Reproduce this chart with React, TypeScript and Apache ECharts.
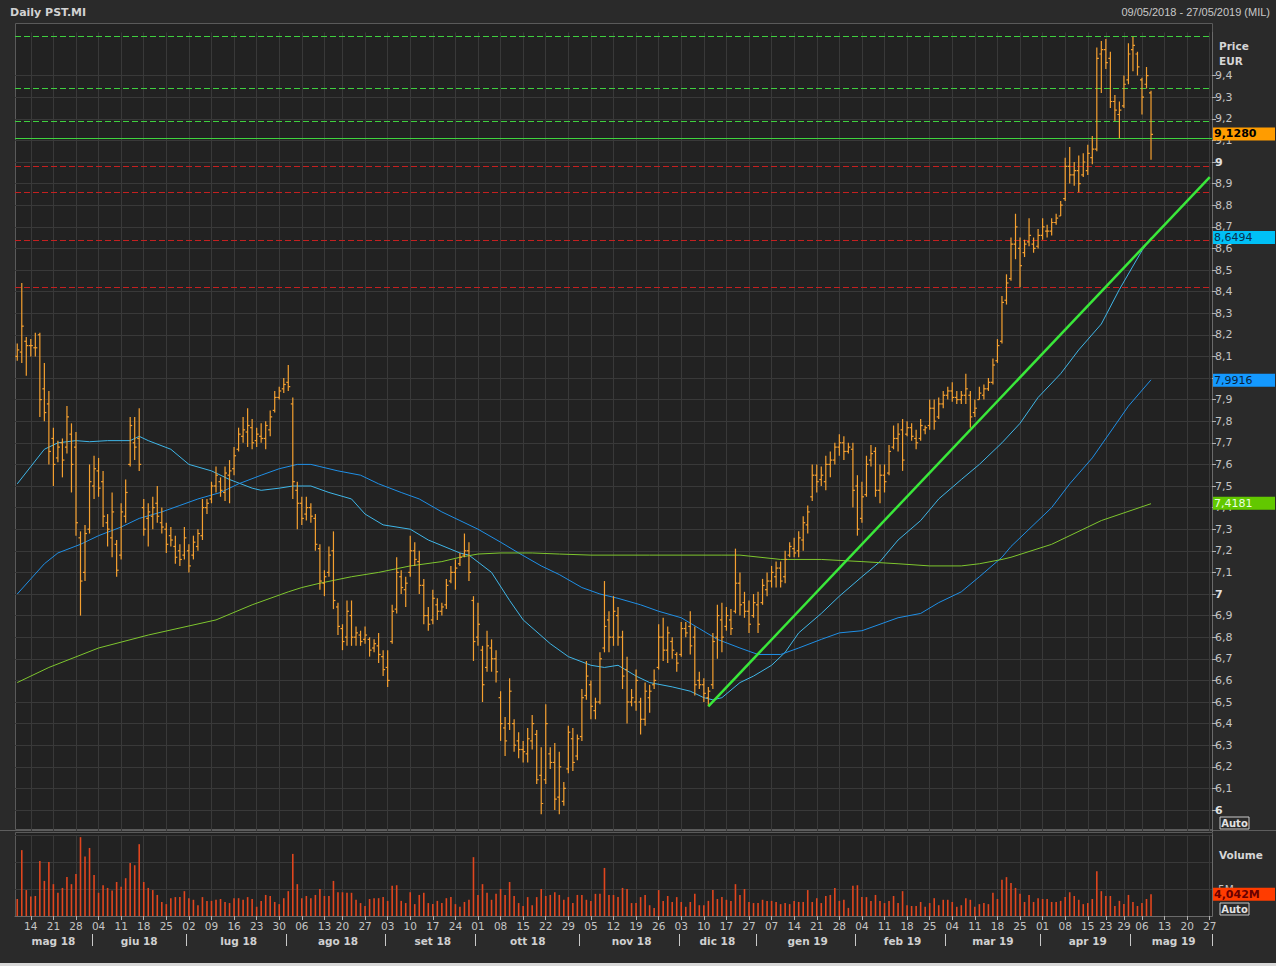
import React, { useEffect, useRef } from 'react';
import * as echarts from 'echarts';

// ---------- calendar (categories) ----------
const START_DATE = '2018-05-09';
const END_DATE = '2019-05-27';
const HOLIDAYS = ['2018-08-15', '2018-12-24', '2018-12-25', '2018-12-26', '2018-12-31', '2019-01-01', '2019-04-19', '2019-04-22', '2019-05-01'];
const MONTHS = ['gen', 'feb', 'mar', 'apr', 'mag', 'giu', 'lug', 'ago', 'set', 'ott', 'nov', 'dic'];

function buildTradingDays(start: string, end: string, holidays: string[]): string[] {
  const out: string[] = [];
  const [ys, ms, ds] = start.split('-').map(Number);
  const [ye, me, de] = end.split('-').map(Number);
  let t = Date.UTC(ys, ms - 1, ds);
  const tEnd = Date.UTC(ye, me - 1, de);
  while (t <= tEnd) {
    const d = new Date(t);
    const dow = d.getUTCDay();
    const s = d.toISOString().slice(0, 10);
    if (dow !== 0 && dow !== 6 && holidays.indexOf(s) < 0) out.push(s);
    t += 86400000;
  }
  return out;
}
const DATES = buildTradingDays(START_DATE, END_DATE, HOLIDAYS);

// ---------- daily OHLC (open, high, low, close), EUR ----------
const BARS: number[][] = [
  [8.10, 8.16, 8.08, 8.13], [8.12, 8.44, 8.07, 8.24], [8.17, 8.19, 8.01, 8.15], [8.15, 8.18, 8.10, 8.15], [8.14, 8.21, 8.10, 8.14],
  [8.20, 8.21, 7.82, 7.90], [7.95, 8.07, 7.80, 7.84], [7.88, 7.94, 7.60, 7.66], [7.72, 7.77, 7.50, 7.60], [7.63, 7.71, 7.61, 7.68],
  [7.70, 7.72, 7.54, 7.62], [7.68, 7.87, 7.65, 7.82], [7.74, 7.79, 7.47, 7.60], [7.68, 7.75, 7.27, 7.33], [7.26, 7.29, 6.90, 7.06],
  [7.10, 7.32, 7.06, 7.28], [7.30, 7.60, 7.28, 7.52], [7.50, 7.64, 7.44, 7.58], [7.57, 7.63, 7.45, 7.49], [7.52, 7.57, 7.31, 7.36],
  [7.33, 7.37, 7.22, 7.30], [7.26, 7.47, 7.17, 7.38], [7.23, 7.25, 7.08, 7.11], [7.18, 7.42, 7.16, 7.38], [7.36, 7.53, 7.33, 7.47],
  [7.60, 7.82, 7.59, 7.78], [7.70, 7.82, 7.62, 7.68], [7.72, 7.86, 7.57, 7.60], [7.40, 7.44, 7.27, 7.30], [7.35, 7.42, 7.22, 7.38],
  [7.36, 7.45, 7.30, 7.40], [7.42, 7.50, 7.33, 7.36], [7.33, 7.40, 7.28, 7.31], [7.30, 7.33, 7.19, 7.23], [7.27, 7.31, 7.22, 7.25],
  [7.22, 7.27, 7.14, 7.17], [7.20, 7.23, 7.13, 7.16], [7.18, 7.31, 7.16, 7.26], [7.20, 7.23, 7.10, 7.13], [7.18, 7.27, 7.16, 7.24],
  [7.22, 7.30, 7.20, 7.28], [7.27, 7.44, 7.25, 7.40], [7.40, 7.44, 7.37, 7.42], [7.44, 7.52, 7.42, 7.50], [7.50, 7.59, 7.47, 7.55],
  [7.52, 7.54, 7.45, 7.48], [7.47, 7.59, 7.43, 7.56], [7.55, 7.62, 7.42, 7.57], [7.58, 7.68, 7.55, 7.64], [7.67, 7.77, 7.66, 7.74],
  [7.73, 7.82, 7.70, 7.76], [7.75, 7.86, 7.68, 7.78], [7.77, 7.81, 7.67, 7.70], [7.71, 7.77, 7.68, 7.74], [7.73, 7.79, 7.70, 7.72],
  [7.72, 7.80, 7.67, 7.78], [7.76, 7.85, 7.73, 7.82], [7.85, 7.94, 7.84, 7.91], [7.91, 7.96, 7.90, 7.94], [7.95, 8.00, 7.93, 7.97],
  [7.98, 8.06, 7.94, 7.96], [7.88, 7.91, 7.44, 7.52], [7.48, 7.52, 7.30, 7.42], [7.42, 7.45, 7.32, 7.35], [7.37, 7.45, 7.34, 7.40],
  [7.40, 7.42, 7.33, 7.36], [7.35, 7.37, 7.20, 7.23], [7.21, 7.23, 7.02, 7.06], [7.05, 7.11, 6.99, 7.08], [7.10, 7.22, 7.08, 7.18],
  [7.20, 7.29, 6.93, 6.97], [6.94, 6.96, 6.81, 6.85], [6.84, 6.86, 6.74, 6.78], [6.80, 6.97, 6.76, 6.92], [6.90, 6.97, 6.76, 6.80],
  [6.80, 6.85, 6.76, 6.82], [6.81, 6.83, 6.76, 6.78], [6.79, 6.85, 6.77, 6.81], [6.79, 6.80, 6.71, 6.74], [6.75, 6.79, 6.73, 6.77],
  [6.76, 6.82, 6.68, 6.72], [6.71, 6.74, 6.62, 6.65], [6.66, 6.74, 6.57, 6.60], [6.78, 6.95, 6.77, 6.92], [6.93, 7.17, 6.91, 7.10],
  [7.08, 7.11, 7.00, 7.03], [7.02, 7.08, 6.94, 7.05], [7.10, 7.27, 7.08, 7.20], [7.20, 7.24, 7.13, 7.16], [7.15, 7.20, 7.00, 7.04],
  [7.04, 7.07, 6.86, 6.90], [6.90, 6.94, 6.83, 6.86], [6.88, 7.02, 6.86, 6.98], [6.95, 6.98, 6.88, 6.92], [6.92, 6.96, 6.90, 6.94],
  [6.95, 7.07, 6.93, 7.04], [7.06, 7.13, 7.05, 7.10], [7.10, 7.16, 7.02, 7.12], [7.14, 7.19, 7.13, 7.17], [7.18, 7.28, 7.17, 7.20],
  [7.20, 7.24, 7.06, 7.10], [6.97, 6.99, 6.69, 6.78], [6.80, 6.96, 6.76, 6.86], [6.74, 6.76, 6.50, 6.58], [6.66, 6.83, 6.64, 6.76],
  [6.75, 6.79, 6.64, 6.70], [6.70, 6.74, 6.59, 6.64], [6.52, 6.55, 6.32, 6.40], [6.38, 6.43, 6.25, 6.32], [6.40, 6.61, 6.37, 6.55],
  [6.40, 6.42, 6.27, 6.30], [6.32, 6.36, 6.24, 6.28], [6.28, 6.32, 6.22, 6.27], [6.26, 6.38, 6.22, 6.33], [6.32, 6.44, 6.28, 6.40],
  [6.35, 6.37, 6.12, 6.14], [6.16, 6.29, 5.98, 6.03], [6.14, 6.49, 6.12, 6.40], [6.26, 6.29, 6.19, 6.22], [6.22, 6.31, 6.00, 6.05],
  [6.06, 6.27, 5.98, 6.20], [6.04, 6.13, 6.02, 6.10], [6.19, 6.39, 6.17, 6.36], [6.33, 6.38, 6.18, 6.22], [6.25, 6.35, 6.23, 6.33],
  [6.34, 6.56, 6.32, 6.52], [6.53, 6.69, 6.51, 6.62], [6.58, 6.60, 6.42, 6.48], [6.46, 6.52, 6.42, 6.50], [6.50, 6.73, 6.49, 6.70],
  [6.75, 7.06, 6.73, 6.85], [6.88, 6.92, 6.73, 6.80], [6.80, 6.99, 6.76, 6.92], [6.90, 6.94, 6.76, 6.80], [6.80, 6.83, 6.56, 6.62],
  [6.65, 6.71, 6.40, 6.50], [6.50, 6.56, 6.48, 6.52], [6.50, 6.65, 6.46, 6.60], [6.50, 6.52, 6.35, 6.42], [6.42, 6.59, 6.39, 6.55],
  [6.52, 6.58, 6.45, 6.55], [6.58, 6.65, 6.56, 6.60], [6.66, 6.86, 6.65, 6.80], [6.80, 6.89, 6.69, 6.74], [6.74, 6.85, 6.68, 6.82],
  [6.78, 6.80, 6.70, 6.74], [6.72, 6.73, 6.64, 6.68], [6.72, 6.87, 6.71, 6.84], [6.84, 6.87, 6.80, 6.82], [6.85, 6.92, 6.72, 6.76],
  [6.80, 6.85, 6.53, 6.58], [6.60, 6.64, 6.56, 6.58], [6.58, 6.61, 6.50, 6.54], [6.52, 6.57, 6.48, 6.55], [6.58, 6.82, 6.56, 6.78],
  [6.80, 6.95, 6.70, 6.90], [6.88, 6.96, 6.73, 6.80], [6.85, 6.94, 6.83, 6.90], [6.88, 6.93, 6.81, 6.84], [6.92, 7.21, 6.91, 7.05],
  [7.05, 7.10, 6.90, 6.95], [6.96, 7.01, 6.89, 6.92], [6.92, 6.97, 6.82, 6.86], [6.90, 7.00, 6.89, 6.96], [6.95, 7.01, 6.82, 6.86],
  [6.96, 7.07, 6.95, 7.04], [7.02, 7.10, 6.99, 7.06], [7.06, 7.13, 7.03, 7.10], [7.08, 7.15, 7.03, 7.12], [7.12, 7.15, 7.03, 7.06],
  [7.08, 7.20, 7.05, 7.16], [7.18, 7.24, 7.17, 7.22], [7.21, 7.26, 7.17, 7.19], [7.20, 7.29, 7.17, 7.26], [7.25, 7.36, 7.20, 7.33],
  [7.32, 7.41, 7.28, 7.38], [7.45, 7.60, 7.43, 7.55], [7.55, 7.60, 7.47, 7.52], [7.53, 7.59, 7.50, 7.55], [7.52, 7.64, 7.48, 7.60],
  [7.60, 7.66, 7.54, 7.62], [7.62, 7.70, 7.60, 7.68], [7.68, 7.74, 7.64, 7.70], [7.70, 7.73, 7.62, 7.66], [7.66, 7.70, 7.65, 7.68],
  [7.67, 7.70, 7.40, 7.48], [7.50, 7.55, 7.27, 7.30], [7.35, 7.52, 7.33, 7.45], [7.46, 7.64, 7.45, 7.60], [7.62, 7.69, 7.59, 7.65],
  [7.66, 7.68, 7.45, 7.48], [7.48, 7.60, 7.42, 7.55], [7.55, 7.60, 7.47, 7.52], [7.56, 7.69, 7.55, 7.66], [7.68, 7.78, 7.67, 7.72],
  [7.72, 7.79, 7.66, 7.74], [7.76, 7.81, 7.57, 7.62], [7.74, 7.80, 7.73, 7.77], [7.77, 7.79, 7.71, 7.73], [7.72, 7.76, 7.67, 7.70],
  [7.72, 7.81, 7.71, 7.78], [7.76, 7.78, 7.74, 7.77], [7.78, 7.90, 7.76, 7.86], [7.86, 7.90, 7.76, 7.80], [7.82, 7.91, 7.81, 7.88],
  [7.88, 7.94, 7.86, 7.92], [7.92, 7.96, 7.90, 7.94], [7.94, 7.98, 7.89, 7.91], [7.91, 7.94, 7.88, 7.90], [7.90, 7.94, 7.88, 7.92],
  [7.92, 8.02, 7.88, 7.95], [7.92, 7.94, 7.77, 7.82], [7.84, 7.90, 7.82, 7.86], [7.90, 7.96, 7.90, 7.93], [7.92, 7.97, 7.90, 7.95],
  [7.95, 8.00, 7.94, 7.98], [7.98, 8.09, 7.97, 8.06], [8.08, 8.18, 8.07, 8.15], [8.17, 8.38, 8.16, 8.35], [8.36, 8.48, 8.34, 8.44],
  [8.46, 8.65, 8.45, 8.62], [8.62, 8.76, 8.55, 8.70], [8.60, 8.65, 8.42, 8.52], [8.58, 8.64, 8.56, 8.62], [8.63, 8.74, 8.61, 8.66],
  [8.62, 8.65, 8.58, 8.60], [8.61, 8.69, 8.60, 8.66], [8.66, 8.74, 8.64, 8.70], [8.68, 8.71, 8.65, 8.68], [8.68, 8.74, 8.66, 8.72],
  [8.72, 8.76, 8.71, 8.74], [8.75, 8.82, 8.75, 8.80], [8.83, 9.02, 8.82, 8.98], [8.98, 9.07, 8.90, 8.94], [8.94, 9.00, 8.89, 8.96],
  [8.96, 9.03, 8.86, 8.90], [8.94, 9.04, 8.93, 9.00], [8.96, 9.08, 8.94, 9.04], [9.02, 9.12, 8.99, 9.06], [9.06, 9.53, 9.05, 9.48],
  [9.50, 9.56, 9.32, 9.52], [9.52, 9.57, 9.43, 9.46], [9.48, 9.51, 9.25, 9.28], [9.28, 9.31, 9.19, 9.24], [9.22, 9.28, 9.11, 9.24],
  [9.26, 9.40, 9.25, 9.36], [9.38, 9.55, 9.36, 9.50], [9.52, 9.58, 9.42, 9.54], [9.50, 9.51, 9.40, 9.44], [9.38, 9.39, 9.22, 9.30],
  [9.36, 9.44, 9.34, 9.40], [9.32, 9.33, 9.01, 9.128],
];

// ---------- daily volume, millions ----------
const VOLUME: number[] = [
  3.15, 12.2, 4.8, 3.6, 3.7, 10.2, 6.5, 10.0, 5.9, 4.3,
  5.2, 7.2, 5.9, 7.8, 14.6, 11.0, 12.6, 7.6, 4.3, 5.7,
  5.2, 4.7, 6.3, 5.4, 7.0, 9.8, 9.4, 13.3, 6.3, 5.2,
  4.8, 3.9, 2.6, 2.2, 3.3, 3.5, 3.5, 4.6, 3.3, 3.0,
  2.0, 3.5, 2.8, 2.8, 3.0, 3.15, 2.6, 2.4, 3.3, 3.3,
  3.0, 3.5, 3.15, 1.7, 2.8, 3.9, 3.7, 2.6, 2.2, 3.3,
  4.6, 11.5, 5.9, 3.3, 3.7, 3.3, 3.9, 5.0, 3.7, 3.7,
  6.5, 4.4, 4.4, 4.3, 4.3, 3.0, 2.4, 1.85, 3.15, 3.3,
  3.3, 3.5, 2.8, 5.6, 5.7, 2.8, 2.4, 4.4, 2.2, 3.9,
  4.3, 2.4, 2.2, 2.8, 2.4, 3.3, 3.5, 2.2, 1.7, 2.6,
  3.0, 10.9, 3.9, 5.9, 4.3, 3.0, 4.1, 5.0, 3.9, 6.3,
  3.7, 2.4, 1.85, 3.5, 2.0, 3.5, 5.0, 3.7, 3.9, 4.4,
  3.9, 3.0, 3.5, 2.4, 3.9, 3.9, 3.0, 2.8, 4.1, 4.1,
  8.9, 3.9, 3.9, 3.5, 5.2, 5.0, 2.4, 2.4, 3.5, 3.9,
  2.0, 1.5, 4.8, 2.8, 3.7, 2.6, 3.5, 2.6, 1.7, 2.6,
  4.1, 2.0, 2.0, 2.8, 4.8, 3.15, 3.5, 3.0, 2.8, 5.9,
  3.9, 5.0, 2.6, 2.4, 2.4, 3.0, 2.8, 2.8, 2.6, 2.2,
  2.4, 2.2, 2.8, 2.6, 2.6, 4.8, 2.6, 3.3, 2.4, 3.7,
  3.9, 5.2, 2.8, 3.0, 1.5, 5.6, 5.7, 3.5, 3.5, 2.8,
  3.9, 2.8, 2.4, 2.8, 3.7, 2.4, 4.6, 2.0, 1.85, 1.85,
  2.6, 1.7, 2.4, 3.3, 2.0, 3.0, 3.0, 2.6, 1.7, 2.0,
  3.3, 3.0, 1.7, 2.2, 2.4, 2.2, 4.3, 3.15, 6.7, 7.2,
  6.1, 5.2, 4.1, 2.6, 3.9, 2.6, 3.3, 3.15, 3.15, 2.6,
  2.6, 2.8, 3.5, 4.4, 3.7, 3.0, 2.2, 2.4, 3.15, 8.3,
  4.6, 3.7, 3.7, 1.85, 2.8, 2.2, 3.9, 2.6, 1.85, 2.4,
  3.15, 4.042,
];

// ---------- moving averages: [day index, value] ----------
const MA_FAST: number[][] = [
  [0, 7.51], [3, 7.59], [6, 7.67], [9, 7.70], [13, 7.71], [16, 7.705], [20, 7.71], [25, 7.71], [27, 7.73], [29, 7.71],
  [34, 7.67], [38, 7.60], [43, 7.57], [47, 7.53], [52, 7.49], [54, 7.48], [58, 7.49], [61, 7.50], [65, 7.50], [69, 7.47],
  [74, 7.44], [77, 7.37], [81, 7.32], [87, 7.30], [91, 7.25], [98, 7.19], [100, 7.18], [105, 7.10], [109, 6.97], [112, 6.88],
  [118, 6.77], [122, 6.71], [127, 6.67], [130, 6.66], [133, 6.67], [137, 6.62], [140, 6.59], [145, 6.57], [149, 6.55], [152, 6.52],
  [154, 6.51], [156, 6.52], [160, 6.59], [163, 6.62], [167, 6.67], [170, 6.73], [173, 6.82], [178, 6.91], [182, 6.99], [187, 7.08],
  [191, 7.15], [195, 7.25], [200, 7.34], [204, 7.44], [209, 7.53], [213, 7.60], [218, 7.70], [222, 7.79], [226, 7.91], [231, 8.02],
  [235, 8.13], [240, 8.25], [244, 8.41], [249, 8.59], [251, 8.6494],
];
const MA_MID: number[][] = [
  [0, 7.00], [3, 7.07], [6, 7.14], [9, 7.19], [14, 7.23], [18, 7.27], [23, 7.31], [27, 7.35], [32, 7.38], [36, 7.41],
  [40, 7.44], [45, 7.47], [49, 7.51], [54, 7.55], [58, 7.58], [62, 7.60], [65, 7.60], [67, 7.59], [71, 7.57], [76, 7.55],
  [80, 7.51], [85, 7.47], [89, 7.44], [94, 7.38], [98, 7.34], [102, 7.30], [107, 7.24], [111, 7.19], [116, 7.13], [120, 7.09],
  [125, 7.03], [129, 7.00], [133, 6.98], [138, 6.95], [142, 6.92], [147, 6.89], [151, 6.84], [155, 6.79], [160, 6.75], [164, 6.72],
  [169, 6.72], [173, 6.75], [178, 6.79], [182, 6.82], [187, 6.83], [191, 6.86], [195, 6.89], [200, 6.91], [204, 6.96], [209, 7.01],
  [213, 7.08], [218, 7.17], [220, 7.22], [224, 7.30], [229, 7.40], [233, 7.51], [238, 7.63], [242, 7.75], [246, 7.87], [251, 7.9916],
];
const MA_SLOW: number[][] = [
  [0, 6.59], [7, 6.66], [18, 6.75], [29, 6.81], [44, 6.88], [52, 6.95], [60, 7.01], [63, 7.03], [67, 7.05], [74, 7.08],
  [80, 7.10], [87, 7.13], [94, 7.15], [98, 7.17], [102, 7.185], [107, 7.19], [114, 7.19], [120, 7.185], [127, 7.18], [140, 7.18],
  [156, 7.18], [160, 7.18], [169, 7.16], [178, 7.16], [187, 7.15], [195, 7.14], [202, 7.13], [209, 7.13], [213, 7.14], [218, 7.16],
  [220, 7.17], [229, 7.23], [240, 7.34], [251, 7.4181],
];

// ---------- drawn studies ----------
const TREND: number[][] = [[153, 6.48], [264, 8.93]];
const LEVELS_GREEN = [9.581, 9.3356, 9.1875];
const LEVELS_RED = [8.979, 8.8588, 8.6366, 8.419];
const LEVEL_SOLID = 9.1088;
const LAST_PRICE = 9.128;
const LAST_VOLUME = 4.042;

// ---------- axis helpers ----------
const N = DATES.length;
const WEEK_FLAGS: boolean[] = DATES.map(() => false);
(() => {
  let last = 0;
  for (let i = 1; i < N; i++) {
    const prev = Date.parse(DATES[i - 1] + 'T00:00:00Z');
    const cur = Date.parse(DATES[i] + 'T00:00:00Z');
    const newWeek = new Date(cur).getUTCDay() <= new Date(prev).getUTCDay() || cur - prev >= 7 * 86400000;
    if (newWeek && i - last >= 3) {
      WEEK_FLAGS[i] = true;
      last = i;
    }
  }
})();
const MONTH_START: boolean[] = DATES.map((d, i) => i > 0 && d.slice(5, 7) !== DATES[i - 1].slice(5, 7));
const MONTH_MID: boolean[] = DATES.map(() => false);
(() => {
  let s = 0;
  for (let i = 1; i <= N; i++) {
    if (i === N || MONTH_START[i]) {
      MONTH_MID[Math.floor((s + i) / 2)] = true;
      s = i;
    }
  }
})();
const PRICE_TICKS: number[] = [];
for (let k = 0; k <= 34; k++) PRICE_TICKS.push(Math.round((6 + k * 0.1) * 10) / 10);
// the "8" label sits under the mid moving-average tag in the reference
const PRICE_LABELS = PRICE_TICKS.filter((v) => v !== 8);

const fmt = (v: number, d: number) => v.toFixed(d).replace('.', ',');

const FONT = 'DejaVu Sans';
const GRID_COLOR = '#393939';
const AXIS_COLOR = '#6a6a6a';
const LABEL_COLOR = '#c4c4c4';
const BAR_COLOR = '#f5a030';

function renderOHLC(params: any, api: any) {
  const i = api.value(0);
  const pO = api.coord([i, api.value(1)]);
  const pH = api.coord([i, api.value(2)]);
  const pL = api.coord([i, api.value(3)]);
  const pC = api.coord([i, api.value(4)]);
  const x = pH[0];
  const st = { stroke: BAR_COLOR, lineWidth: 1.2 };
  return {
    type: 'group',
    children: [
      { type: 'line', shape: { x1: x, y1: pH[1], x2: x, y2: pL[1] }, style: st },
      { type: 'line', shape: { x1: x - 2, y1: pO[1], x2: x, y2: pO[1] }, style: st },
      { type: 'line', shape: { x1: x, y1: pC[1], x2: x + 2, y2: pC[1] }, style: st },
    ],
  };
}

function valueTag(value: number, text: string, bg: string, color: string, bold: boolean) {
  return {
    yAxis: value,
    lineStyle: { color: 'rgba(0,0,0,0)', width: 1, type: 'solid' },
    label: {
      show: true,
      position: 'end',
      distance: 1,
      formatter: text,
      backgroundColor: bg,
      color,
      fontFamily: FONT,
      fontSize: 11,
      fontWeight: bold ? 'bold' : 'normal',
      lineHeight: 13,
      padding: [0, 2, 0, 1],
      width: 59,
    },
  };
}

function maSeries(name: string, data: number[][], color: string, tagBg: string, tagColor: string) {
  const last = data[data.length - 1][1];
  return {
    name,
    type: 'line',
    xAxisIndex: 0,
    yAxisIndex: 0,
    data,
    showSymbol: false,
    symbol: 'none',
    silent: true,
    z: 2,
    lineStyle: { color, width: 1 },
    markLine: {
      silent: true,
      symbol: ['none', 'none'],
      data: [valueTag(last, fmt(last, 4), tagBg, tagColor, false)],
      z: 10,
    },
  };
}

function buildOption() {
  const weekFn = (i: number) => WEEK_FLAGS[i];
  const monthStartFn = (i: number) => MONTH_START[i];
  const monthMidFn = (i: number) => MONTH_MID[i];
  const levelLines: any[] = [
    ...LEVELS_GREEN.map((v) => ({ yAxis: v, lineStyle: { color: '#3fcf3f', width: 1, type: [6, 3] } })),
    ...LEVELS_RED.map((v) => ({ yAxis: v, lineStyle: { color: '#c42020', width: 1, type: [6, 3] } })),
    { yAxis: LEVEL_SOLID, lineStyle: { color: '#3fd43f', width: 1, type: 'solid' } },
  ];
  const txt = (text: string, x: number, y: number, opts: any = {}) => ({
    type: 'text',
    x,
    y,
    z: 100,
    silent: true,
    style: {
      text,
      fill: opts.fill || '#d6d6d6',
      font: opts.font || `bold 10.5px "${FONT}"`,
      align: opts.align || 'left',
      verticalAlign: 'middle',
      textAlign: opts.align || 'left',
      textVerticalAlign: 'middle',
    },
  });
  const autoBox = (y: number) => ({
    type: 'group',
    x: 1220,
    y,
    z: 100,
    silent: true,
    children: [
      { type: 'rect', shape: { x: 0, y: 0, width: 29, height: 12 }, style: { fill: 'none', stroke: '#c8c8c8', lineWidth: 1 } },
      {
        type: 'text',
        x: 14.5,
        y: 6.5,
        style: { text: 'Auto', fill: '#e2e2e2', font: `bold 10px "${FONT}"`, align: 'center', verticalAlign: 'middle', textAlign: 'center', textVerticalAlign: 'middle' },
      },
    ],
  });

  return {
    backgroundColor: '#2a2a2a',
    animation: false,
    textStyle: { fontFamily: FONT },
    grid: [
      { left: 15, right: 64, top: 32.4, height: 799.2, containLabel: false, outerBoundsMode: 'none' },
      { left: 15, right: 64, top: 835, height: 81, containLabel: false, outerBoundsMode: 'none' },
    ],
    xAxis: [
      {
        type: 'category',
        gridIndex: 0,
        data: DATES,
        boundaryGap: true,
        axisLine: { show: false },
        axisTick: { show: false },
        axisLabel: { show: false },
        splitLine: { show: true, interval: weekFn, alignWithLabel: true, lineStyle: { color: GRID_COLOR, width: 1 } },
      },
      {
        type: 'category',
        gridIndex: 1,
        data: DATES,
        boundaryGap: true,
        position: 'bottom',
        axisLine: { show: true, lineStyle: { color: AXIS_COLOR, width: 1 } },
        axisTick: { show: true, interval: weekFn, alignWithLabel: true, length: 4, lineStyle: { color: '#b0b0b0' } },
        axisLabel: {
          show: true,
          interval: weekFn,
          hideOverlap: false,
          formatter: (v: string) => v.slice(8, 10),
          color: LABEL_COLOR,
          fontFamily: FONT,
          fontSize: 10.5,
          margin: 4,
        },
        splitLine: { show: true, interval: weekFn, alignWithLabel: true, lineStyle: { color: GRID_COLOR, width: 1 } },
      },
      {
        type: 'category',
        gridIndex: 1,
        data: DATES,
        boundaryGap: true,
        position: 'bottom',
        offset: 18,
        axisLine: { show: false },
        axisTick: { show: true, interval: monthStartFn, length: 12, lineStyle: { color: '#c8c8c8', width: 1 } },
        axisLabel: {
          show: true,
          interval: monthMidFn,
          hideOverlap: false,
          formatter: (v: string) => MONTHS[Number(v.slice(5, 7)) - 1] + ' ' + v.slice(2, 4),
          color: '#d0d0d0',
          fontFamily: FONT,
          fontSize: 10.5,
          fontWeight: 'bold',
          margin: 1,
        },
        splitLine: { show: false },
      },
    ],
    yAxis: [
      {
        type: 'value',
        gridIndex: 0,
        position: 'right',
        min: 5.9,
        max: 9.6,
        interval: 0.1,
        axisLine: { show: true, lineStyle: { color: AXIS_COLOR, width: 1 } },
        axisTick: { show: true, length: 4, customValues: PRICE_TICKS, lineStyle: { color: '#b0b0b0' } },
        axisLabel: {
          show: true,
          customValues: PRICE_LABELS,
          margin: 3,
          color: LABEL_COLOR,
          fontFamily: FONT,
          fontSize: 11,
          formatter: (v: number) => {
            const r = Math.round(v * 10) / 10;
            if (Math.abs(r - Math.round(r)) < 1e-6) return '{b|' + Math.round(r) + '}';
            return fmt(r, 1);
          },
          rich: { b: { fontWeight: 'bold', color: '#e0e0e0', fontFamily: FONT, fontSize: 11 } },
        },
        splitLine: { show: true, lineStyle: { color: GRID_COLOR, width: 1 } },
      },
      {
        type: 'value',
        gridIndex: 1,
        position: 'right',
        min: 0,
        max: 15,
        interval: 5,
        axisLine: { show: true, lineStyle: { color: AXIS_COLOR, width: 1 } },
        axisTick: { show: false },
        axisLabel: {
          show: true,
          margin: 6,
          color: LABEL_COLOR,
          fontFamily: FONT,
          fontSize: 10.5,
          formatter: (v: number) => (v === 5 ? '5M' : ''),
        },
        splitLine: { show: true, lineStyle: { color: GRID_COLOR, width: 1 } },
      },
    ],
    series: [
      {
        name: 'Trend',
        type: 'line',
        xAxisIndex: 0,
        yAxisIndex: 0,
        data: TREND,
        showSymbol: false,
        symbol: 'none',
        silent: true,
        z: 4,
        lineStyle: { color: '#3ae83a', width: 2.5 },
        markLine: { silent: true, symbol: ['none', 'none'], label: { show: false }, data: levelLines, z: 1 },
      },
      maSeries('MA fast', MA_FAST, '#3fb6e8', '#00c0f6', '#08304e'),
      maSeries('MA mid', MA_MID, '#1f8fe6', '#1499ff', '#0a1f3a'),
      maSeries('MA slow', MA_SLOW, '#7ec62e', '#62c800', '#eaffe0'),
      {
        name: 'PST.MI',
        type: 'custom',
        xAxisIndex: 0,
        yAxisIndex: 0,
        renderItem: renderOHLC,
        data: BARS.map((b, i) => [i, b[0], b[1], b[2], b[3]]),
        encode: { x: 0, y: [1, 2, 3, 4] },
        silent: true,
        clip: true,
        z: 3,
      },
      {
        name: 'Last',
        type: 'line',
        xAxisIndex: 0,
        yAxisIndex: 0,
        data: [[BARS.length - 1, LAST_PRICE]],
        showSymbol: false,
        symbol: 'none',
        silent: true,
        z: 5,
        lineStyle: { width: 0 },
        markLine: {
          silent: true,
          symbol: ['none', 'none'],
          data: [valueTag(LAST_PRICE, fmt(LAST_PRICE, 4), '#ff9c00', '#000000', true)],
          z: 10,
        },
      },
      {
        name: 'Volume',
        type: 'bar',
        xAxisIndex: 1,
        yAxisIndex: 1,
        data: VOLUME,
        barWidth: 1.6,
        silent: true,
        itemStyle: { color: '#e0461e' },
        markLine: {
          silent: true,
          symbol: ['none', 'none'],
          data: [valueTag(LAST_VOLUME, fmt(LAST_VOLUME, 3) + 'M', '#ff3c00', '#6a0000', true)],
          z: 10,
        },
      },
    ],
    graphic: [
      { type: 'rect', z: -10, silent: true, shape: { x: 15.5, y: 23.5, width: 1197, height: 806 }, style: { fill: '#222222', stroke: '#5a5a5a', lineWidth: 1 } },
      { type: 'rect', z: -10, silent: true, shape: { x: 15.5, y: 832.5, width: 1197, height: 84 }, style: { fill: '#222222', stroke: '#5a5a5a', lineWidth: 1 } },
      { type: 'line', z: -9, silent: true, shape: { x1: 0, y1: 830.5, x2: 1276, y2: 830.5 }, style: { stroke: '#5e5e5e', lineWidth: 1 } },
      { type: 'rect', z: -9, silent: true, shape: { x: 0, y: 963, width: 1276, height: 3 }, style: { fill: '#d8d8d8' } },
      txt('Daily PST.MI', 10, 12, { font: `bold 11px "${FONT}"`, fill: '#d2d2d2' }),
      txt('09/05/2018 - 27/05/2019 (MIL)', 1270, 12, { font: '11px "Liberation Sans"', fill: '#c8c8c8', align: 'right' }),
      txt('Price', 1219, 46),
      txt('EUR', 1219, 61),
      txt('Volume', 1219, 855),
      autoBox(817),
      autoBox(903),
    ],
  };
}

export default function App() {
  const ref = useRef<HTMLDivElement>(null);
  useEffect(() => {
    if (!ref.current) return;
    const chart = echarts.init(ref.current, undefined, { renderer: 'svg', width: 1276, height: 966 });
    chart.setOption(buildOption() as any);
    return () => chart.dispose();
  }, []);
  return <div ref={ref} style={{ position: 'absolute', left: 0, top: 0, width: 1276, height: 966 }} />;
}
